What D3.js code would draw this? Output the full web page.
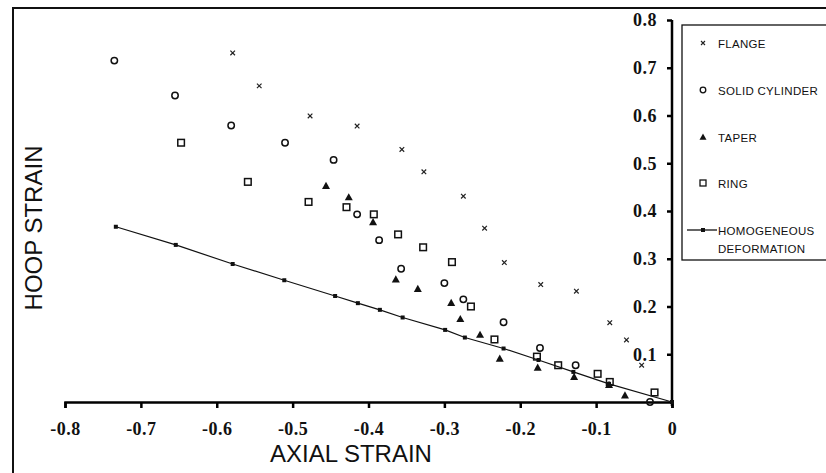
<!DOCTYPE html>
<html>
<head>
<meta charset="utf-8">
<script src="https://cdn.jsdelivr.net/npm/d3@7"></script>
<style>
  html, body { margin: 0; padding: 0; background: #fff; }
  svg { display: block; }
</style>
</head>
<body>
<svg id="chart" width="826" height="473"></svg>
<script>
// ---------- data ----------
const flangeX = [-0.579, -0.544, -0.477, -0.415, -0.356, -0.327, -0.275, -0.247, -0.221, -0.173, -0.126, -0.082, -0.060, -0.040];
const flangeY = [0.731, 0.662, 0.599, 0.578, 0.529, 0.482, 0.431, 0.364, 0.292, 0.246, 0.232, 0.166, 0.130, 0.077];

const cylX = [-0.735, -0.655, -0.581, -0.510, -0.446, -0.415, -0.386, -0.357, -0.300, -0.275, -0.222, -0.174, -0.127, -0.029];
const cylY = [0.715, 0.642, 0.579, 0.543, 0.507, 0.393, 0.339, 0.279, 0.249, 0.215, 0.167, 0.113, 0.077, 0.000];

const taperX = [-0.456, -0.426, -0.394, -0.364, -0.335, -0.291, -0.279, -0.253, -0.227, -0.177, -0.129, -0.083, -0.062];
const taperY = [0.453, 0.429, 0.377, 0.257, 0.237, 0.208, 0.174, 0.141, 0.091, 0.072, 0.053, 0.036, 0.014];

const ringX = [-0.647, -0.559, -0.479, -0.429, -0.393, -0.361, -0.328, -0.290, -0.265, -0.234, -0.178, -0.150, -0.098, -0.082, -0.023];
const ringY = [0.543, 0.461, 0.419, 0.408, 0.393, 0.351, 0.324, 0.293, 0.200, 0.131, 0.095, 0.077, 0.059, 0.042, 0.020];

const homX = [-0.733, -0.654, -0.579, -0.511, -0.444, -0.414, -0.385, -0.355, -0.299, -0.273, -0.222, -0.176, -0.130, -0.083, 0];
const homY = [0.367, 0.329, 0.289, 0.255, 0.222, 0.207, 0.193, 0.177, 0.151, 0.135, 0.112, 0.088, 0.063, 0.038, 0];

const xTicks = [-0.8, -0.7, -0.6, -0.5, -0.4, -0.3, -0.2, -0.1, 0];
const yTicks = [0.1, 0.2, 0.3, 0.4, 0.5, 0.6, 0.7, 0.8];
const legendLabels = ["FLANGE", "SOLID CYLINDER", "TAPER", "RING", ["HOMOGENEOUS", "DEFORMATION"]];

// ---------- layout ----------
const svg = d3.select("#chart");
const x = d3.scaleLinear().domain([-0.8, 0]).range([65, 672]);
const y = d3.scaleLinear().domain([0, 0.8]).range([402, 20]);
const zip = (a, b) => a.map((v, i) => [v, b[i]]);

// outer frame (clipped by the picture edges)
svg.append("rect").attr("x", 13).attr("y", 8).attr("width", 900).attr("height", 600)
  .attr("fill", "none").attr("stroke", "#111").attr("stroke-width", 2);

// x axis
const xAxis = d3.axisBottom(x).tickValues(xTicks).tickSize(6).tickPadding(14)
  .tickFormat(d => d === 0 ? "0" : d.toFixed(1));
const gx = svg.append("g").attr("transform", `translate(0,${y(0)})`).call(xAxis);
gx.select(".domain").attr("stroke", "#000").attr("stroke-width", 2.5);
gx.selectAll(".tick line").attr("stroke", "#000").attr("stroke-width", 2.5);
gx.selectAll(".tick text").attr("font-family", "'Liberation Serif', 'Times New Roman', serif")
  .attr("font-weight", "bold").attr("font-size", 18).attr("letter-spacing", 0.5).attr("fill", "#111");

// y axis (at x = 0, right side)
const yAxis = d3.axisLeft(y).tickValues(yTicks).tickSize(5).tickPadding(10)
  .tickFormat(d => d.toFixed(1));
const gy = svg.append("g").attr("transform", `translate(${x(0)},0)`).call(yAxis);
gy.select(".domain").attr("stroke", "#000").attr("stroke-width", 2.5).attr("d", `M0,${y(0.8)}V${y(0)+4}`);
gy.selectAll(".tick line").attr("stroke", "#000").attr("stroke-width", 2.5);
gy.selectAll(".tick text").attr("font-family", "'Liberation Serif', 'Times New Roman', serif")
  .attr("font-weight", "bold").attr("font-size", 18).attr("letter-spacing", 0.5).attr("fill", "#111");

// axis titles
svg.append("text").attr("x", 351).attr("y", 462).attr("text-anchor", "middle")
  .attr("font-family", "'Liberation Sans', Arial, sans-serif").attr("font-size", 24).attr("fill", "#111")
  .text("AXIAL STRAIN");
svg.append("text").attr("transform", "translate(42,228) rotate(-90)").attr("text-anchor", "middle")
  .attr("font-family", "'Liberation Sans', Arial, sans-serif").attr("font-size", 24).attr("fill", "#111")
  .text("HOOP STRAIN");

// ---------- marks ----------
const crossPath = (cx, cy, s) => `M${cx - s},${cy - s}L${cx + s},${cy + s}M${cx - s},${cy + s}L${cx + s},${cy - s}`;
const triPath = (cx, cy, s) => `M${cx},${cy - s}L${cx + s},${cy + s * 0.8}L${cx - s},${cy + s * 0.8}Z`;

// homogeneous deformation line
const line = d3.line().x(d => x(d[0])).y(d => y(d[1]));
const homData = zip(homX, homY);
svg.append("path").attr("d", line(homData)).attr("fill", "none").attr("stroke", "#111").attr("stroke-width", 1.2);
svg.append("g").selectAll("rect").data(homData).join("rect")
  .attr("x", d => x(d[0]) - 2).attr("y", d => y(d[1]) - 2).attr("width", 4).attr("height", 4)
  .attr("fill", "#111");

// flange
svg.append("g").selectAll("path").data(zip(flangeX, flangeY)).join("path")
  .attr("d", d => crossPath(x(d[0]), y(d[1]), 2.3))
  .attr("stroke", "#222").attr("stroke-width", 1.2).attr("fill", "none");

// solid cylinder
svg.append("g").selectAll("circle").data(zip(cylX, cylY)).join("circle")
  .attr("cx", d => x(d[0])).attr("cy", d => y(d[1])).attr("r", 3.2)
  .attr("fill", "none").attr("stroke", "#111").attr("stroke-width", 1.5);

// ring
svg.append("g").selectAll("rect").data(zip(ringX, ringY)).join("rect")
  .attr("x", d => x(d[0]) - 3.3).attr("y", d => y(d[1]) - 3.3).attr("width", 6.6).attr("height", 6.6)
  .attr("fill", "none").attr("stroke", "#111").attr("stroke-width", 1.5);

// taper
svg.append("g").selectAll("path").data(zip(taperX, taperY)).join("path")
  .attr("d", d => triPath(x(d[0]), y(d[1]), 4))
  .attr("fill", "#111");

// ---------- legend ----------
const lg = svg.append("g");
lg.append("rect").attr("x", 682).attr("y", 25).attr("width", 200).attr("height", 235)
  .attr("fill", "#fff").attr("stroke", "#111").attr("stroke-width", 1.3);
const rowY = [43, 90, 137, 183, 230];
const symX = 703, txtX = 718;
lg.append("path").attr("d", crossPath(symX, rowY[0], 2)).attr("stroke", "#222").attr("stroke-width", 1.1);
lg.append("circle").attr("cx", symX).attr("cy", rowY[1]).attr("r", 2.8).attr("fill", "none")
  .attr("stroke", "#111").attr("stroke-width", 1.3);
lg.append("path").attr("d", triPath(symX, rowY[2], 3.5)).attr("fill", "#111");
lg.append("rect").attr("x", symX - 3).attr("y", rowY[3] - 3).attr("width", 6).attr("height", 6)
  .attr("fill", "none").attr("stroke", "#111").attr("stroke-width", 1.3);
lg.append("line").attr("x1", 687).attr("x2", 717).attr("y1", rowY[4]).attr("y2", rowY[4])
  .attr("stroke", "#111").attr("stroke-width", 1.3);
lg.append("rect").attr("x", symX - 2).attr("y", rowY[4] - 2).attr("width", 4).attr("height", 4).attr("fill", "#111");

legendLabels.forEach((lab, i) => {
  const lines = Array.isArray(lab) ? lab : [lab];
  lines.forEach((s, j) => {
    lg.append("text").attr("x", txtX).attr("y", rowY[i] + 4.5 + j * 18)
      .attr("font-family", "'Liberation Sans', Arial, sans-serif").attr("font-size", 11.5)
      .attr("letter-spacing", 0.3).attr("fill", "#111").text(s);
  });
});
</script>
</body>
</html>
